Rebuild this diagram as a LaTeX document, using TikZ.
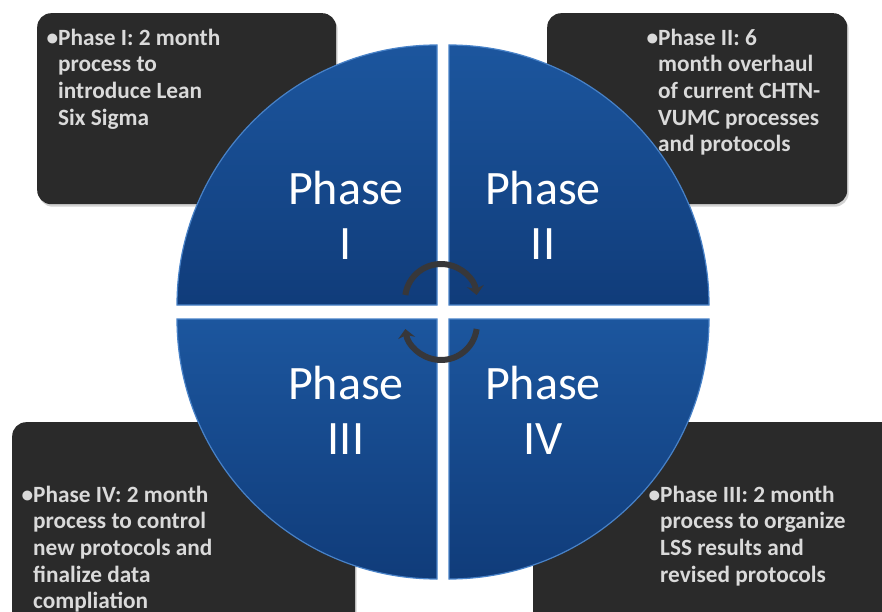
\documentclass[tikz,border=0pt]{standalone}
\usepackage{fontspec}
\setmainfont{Carlito}
\usetikzlibrary{shadows,arrows.meta}

\definecolor{boxgray}{RGB}{42,42,42}
\definecolor{textgray}{RGB}{218,218,218}
\definecolor{blueTop}{RGB}{28,86,158}
\definecolor{blueBot}{RGB}{16,60,122}
\definecolor{blueEdge}{RGB}{72,130,200}
\definecolor{arrowgray}{RGB}{55,55,58}

\begin{document}
\begin{tikzpicture}[x=1pt,y=1pt,
  infobox/.style={fill=boxgray, rounded corners=14pt, inner sep=0pt,
    drop shadow={shadow xshift=1.5pt, shadow yshift=-2.5pt, opacity=0.35}},
  infotext/.style={text=textgray, font=\fontsize{23.3}{26.7}\selectfont\bfseries,
    align=left, anchor=north west, inner sep=0pt},
  quarter/.style={top color=blueTop, bottom color=blueBot, draw=blueEdge, line width=1.2pt},
  phasetext/.style={text=white, font=\fontsize{48}{55}\selectfont, align=center},
  cyclearrow/.style={draw=arrowgray, line width=6pt, -{Stealth[length=9pt,width=17pt]}}]

  \clip (0,0) rectangle (882,611);
  \fill[white] (0,0) rectangle (882,611);

  % boxes behind the circle
  \node[infobox, minimum width=299pt, minimum height=191pt, anchor=north west] (infoTL) at (37,598) {};
  \node[infobox, minimum width=300pt, minimum height=191pt, anchor=north west] (infoTR) at (547,598) {};
  \node[infobox, minimum width=343pt, minimum height=215pt, anchor=north west] (infoBL) at (12,189) {};
  \node[infobox, minimum width=370pt, minimum height=215pt, anchor=north west] (infoBR) at (533,189) {};

  \node[infotext] (noteTL) at ([shift={(21,-13.3)}]infoTL.north west)
    {\strut\llap{\textbullet}Phase I: 2 month\\process to\\introduce Lean\\Six Sigma};
  \node[infotext] (noteTR) at ([shift={(111,-13.3)}]infoTR.north west)
    {\strut\llap{\textbullet}Phase II: 6\\month overhaul\\of current CHTN-\\VUMC processes\\and protocols};
  \node[infotext] (noteBL) at ([shift={(21,-61.3)}]infoBL.north west)
    {\strut\llap{\textbullet}Phase IV: 2 month\\process to control\\new protocols and\\finalize data\\compliation};
  \node[infotext] (noteBR) at ([shift={(127,-61.3)}]infoBR.north west)
    {\strut\llap{\textbullet}Phase III: 2 month\\process to organize\\LSS results and\\revised protocols};

  % the four quarters
  \coordinate (cTL) at (437,306);
  \coordinate (cTR) at (449,306);
  \coordinate (cBL) at (437,292);
  \coordinate (cBR) at (449,292);
  \path[quarter] (cTL) -- ++(-260,0) arc[start angle=180, end angle=90, radius=260] -- cycle;
  \path[quarter] (cTR) -- ++(0,260) arc[start angle=90, end angle=0, radius=260] -- cycle;
  \path[quarter] (cBL) -- ++(-260,0) arc[start angle=180, end angle=270, radius=260] -- cycle;
  \path[quarter] (cBR) -- ++(260,0) arc[start angle=0, end angle=-90, radius=260] -- cycle;

  \node[phasetext] (phaseI) at (346,396) {Phase\\I};
  \node[phasetext] (phaseII) at (543,396) {Phase\\II};
  \node[phasetext] (phaseIII) at (346,201) {Phase\\III};
  \node[phasetext] (phaseIV) at (543,201) {Phase\\IV};

  % cycle arrows in the middle
  \coordinate (spinTop) at (441,311);
  \coordinate (spinBot) at (441,287);
  \draw[cyclearrow] ([shift={(172:36)}]spinTop) arc[start angle=172, end angle=8, radius=36];
  \draw[cyclearrow] ([shift={(-8:36)}]spinBot) arc[start angle=-8, end angle=-172, radius=36];
\end{tikzpicture}
\end{document}
